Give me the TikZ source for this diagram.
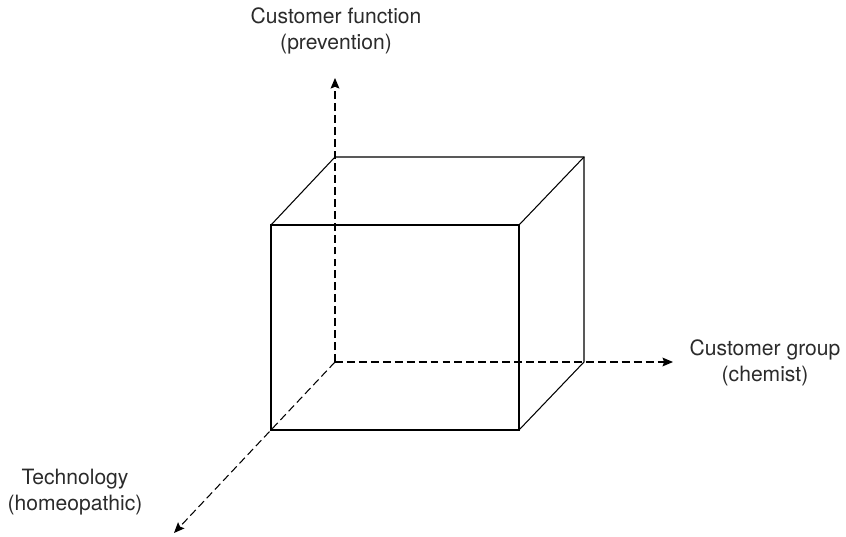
\documentclass[tikz,border=0pt]{standalone}
\usepackage{fontspec}
\setmainfont{TeX Gyre Heros}
\usepackage{xcolor}
\usetikzlibrary{arrows.meta}

\definecolor{labelgray}{HTML}{2B2B2B}
\tikzset{
  axis/.style={dashed, dash pattern=on 4.5pt off 2.3pt, line width=0.6pt,
    -{Stealth[length=6pt,width=5pt,inset=1pt]}},
  edge/.style={line width=0.6pt},
  axislabel/.style={align=center, text=labelgray, font=\fontsize{12}{14.5}\selectfont}
}

\begin{document}
\begin{tikzpicture}[x=0.02cm, y=-0.02cm]
\useasboundingbox (0,0) rectangle (846,537);
% cube corners
\coordinate (o) at (335,362);
\coordinate (bt1) at (335,157);
\coordinate (bt2) at (584,157);
\coordinate (bb2) at (584,362);
\coordinate (ft1) at (271,225);
\coordinate (ft2) at (519,225);
\coordinate (fb2) at (519,430);
\coordinate (fb1) at (271,430);
% axis ends
\coordinate (up) at (335,78);
\coordinate (right) at (673,362);
\coordinate (down) at (174,533);

\draw[axis] (o) -- (up);
\draw[axis] (o) -- (right);
\draw[axis] (o) -- (down);

\draw[edge] (ft1) -- (ft2) -- (fb2) -- (fb1) -- cycle;
\draw[edge] (ft1) -- (bt1) -- (bt2) -- (bb2) -- (fb2);
\draw[edge] (ft2) -- (bt2);

\node[axislabel] (func) at (336,31) {Customer function\\(prevention)};
\node[axislabel] (group) at (765,363) {Customer group\\(chemist)};
\node[axislabel] (tech) at (75,492) {Technology\\(homeopathic)};
\end{tikzpicture}
\end{document}
